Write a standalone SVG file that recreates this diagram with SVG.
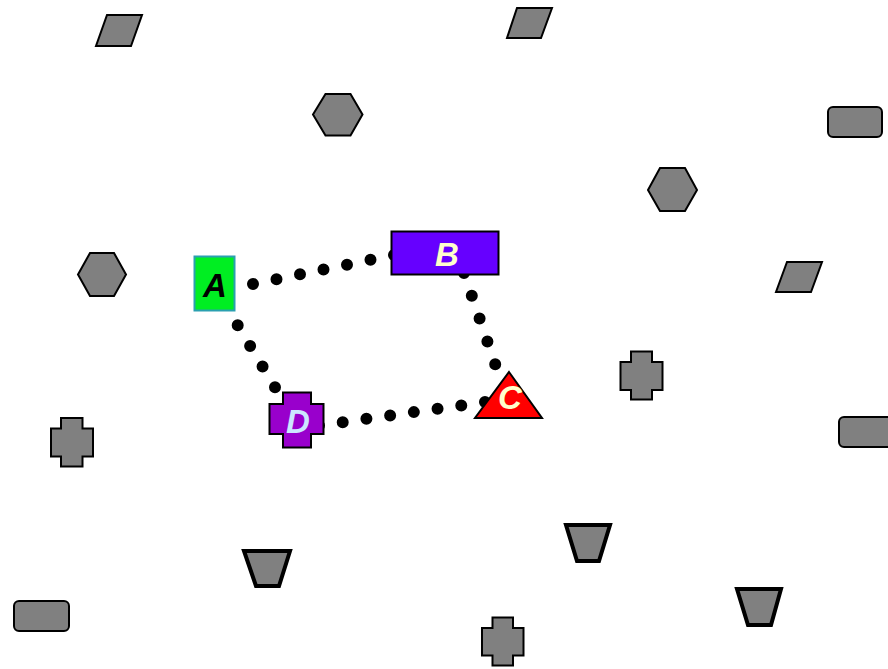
<svg xmlns="http://www.w3.org/2000/svg" width="888" height="669" viewBox="0 0 888 669">
<style>
.g{fill:#808080;stroke:#000;stroke-width:2;stroke-linejoin:miter}
.t{fill:#808080;stroke:#000;stroke-width:4}
.e{fill:none;stroke:#000;stroke-width:12;stroke-linecap:round}
.lbl{font-family:"Liberation Sans",Arial,sans-serif;font-weight:bold;font-style:italic;font-size:33px;text-anchor:middle;dominant-baseline:central}
</style>
<rect width="888" height="669" fill="#fff"/>
<g id="decor">
<polygon class="g" points="107,15 142,15 131,46 96,46"/>
<polygon class="g" points="517,8 552,8 541,38 507,38"/>
<polygon class="g" points="787,262 822,262 811,292 776,292"/>
<polygon class="g" points="313,114.5 325.5,94 350.5,94 362.5,114.5 350.5,135.5 325.5,135.5"/>
<polygon class="g" points="648,190 660,168 685,168 697,190 685,211 660,211"/>
<polygon class="g" points="78,274.5 90,253 114,253 126,274.5 114,296 90,296"/>
<rect class="g" x="828" y="107" width="54" height="30" rx="5"/>
<rect class="g" x="839" y="417" width="54" height="30" rx="5"/>
<rect class="g" x="14" y="601" width="55" height="30" rx="5"/>
<polygon class="g" points="61,418 82.5,418 82.5,428.5 93,428.5 93,456.5 82.5,456.5 82.5,466.5 61,466.5 61,456.5 51,456.5 51,428.5 61,428.5"/>
<polygon class="g" points="631,351.5 652,351.5 652,362 662.5,362 662.5,390 652,390 652,399.5 631,399.5 631,390 620.5,390 620.5,362 631,362"/>
<polygon class="g" points="492.5,617.5 513,617.5 513,628 523.5,628 523.5,655.5 513,655.5 513,665.5 492.5,665.5 492.5,655.5 482,655.5 482,628 492.5,628"/>
<polygon class="t" points="244,551 290,551 279,586 256,586"/>
<polygon class="t" points="566,525 610,525 599,561 577,561"/>
<polygon class="t" points="737,589 781,589 771,625 748,625"/>
</g>
<g id="connectors">
<path class="e" d="M253,284 L394,255" stroke-dasharray="0 23.99"/>
<path class="e" d="M237.7,325.3 L287.5,408" stroke-dasharray="0 24.1"/>
<path class="e" d="M464,273 L503,387" stroke-dasharray="0 24.1"/>
<path class="e" d="M319,425.6 L509,398.6" stroke-dasharray="0 23.95"/>
</g>
<g id="A">
<rect x="194.5" y="256.5" width="40" height="54" fill="#00ee22" stroke="#2aa0b0" stroke-width="2"/>
<text class="lbl" x="215" y="285" fill="#000">A</text>
</g>
<g id="B">
<rect x="391.5" y="231.5" width="107" height="43" fill="#6600ff" stroke="#000" stroke-width="2"/>
<text class="lbl" x="447" y="254" fill="#ffffcc">B</text>
</g>
<g id="C">
<polygon points="509,372 542,418 475,418" fill="#ff0000" stroke="#000" stroke-width="2"/>
<text class="lbl" x="510" y="397" fill="#ffffcc">C</text>
</g>
<g id="D">
<polygon points="283,392.5 311,392.5 311,404 323.5,404 323.5,434 311,434 311,447.5 283,447.5 283,434 269.5,434 269.5,404 283,404" fill="#9900cc" stroke="#000" stroke-width="2"/>
<text class="lbl" x="298" y="421" fill="#cce6ff">D</text>
</g>
</svg>
